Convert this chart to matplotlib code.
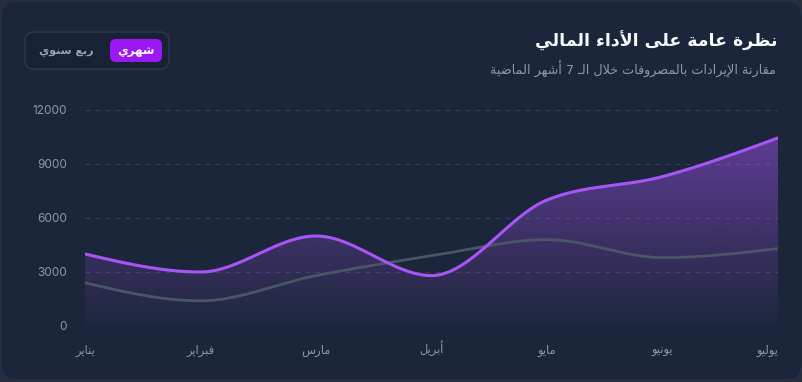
import numpy as np
import matplotlib
matplotlib.use("Agg")
import matplotlib.pyplot as plt
from matplotlib.patches import FancyBboxPatch, Polygon

# ---------------- data ----------------
months = ["يناير", "فبراير", "مارس", "أبريل", "مايو", "يونيو", "يوليو"]
revenue = [4000, 3000, 5000, 2800, 7000, 8300, 10450]
expenses = [2400, 1400, 2800, 3900, 4800, 3800, 4300]
yticks = [0, 3000, 6000, 9000, 12000]
title = "نظرة عامة على الأداء المالي"
subtitle = "مقارنة الإيرادات بالمصروفات خلال الـ 7 أشهر الماضية"
btn_active = "شهري"
btn_other = "ربع سنوي"

# ---------------- minimal Arabic shaping ----------------
_FOUR = {'\u0626': 0xFE89, '\u0628': 0xFE8F, '\u062A': 0xFE95, '\u062B': 0xFE99,
         '\u062C': 0xFE9D, '\u062D': 0xFEA1, '\u062E': 0xFEA5, '\u0633': 0xFEB1,
         '\u0634': 0xFEB5, '\u0635': 0xFEB9, '\u0636': 0xFEBD, '\u0637': 0xFEC1,
         '\u0638': 0xFEC5, '\u0639': 0xFEC9, '\u063A': 0xFECD, '\u0641': 0xFED1,
         '\u0642': 0xFED5, '\u0643': 0xFED9, '\u0644': 0xFEDD, '\u0645': 0xFEE1,
         '\u0646': 0xFEE5, '\u0647': 0xFEE9, '\u064A': 0xFEF1}
_TWO = {'\u0622': 0xFE81, '\u0623': 0xFE83, '\u0624': 0xFE85, '\u0625': 0xFE87,
        '\u0627': 0xFE8D, '\u0629': 0xFE93, '\u062F': 0xFEA9, '\u0630': 0xFEAB,
        '\u0631': 0xFEAD, '\u0632': 0xFEAF, '\u0648': 0xFEED, '\u0649': 0xFEEF}
_LA = {'\u0622': 0xFEF5, '\u0623': 0xFEF7, '\u0625': 0xFEF9, '\u0627': 0xFEFB}
TATWEEL = '\u0640'


def shape(text):
    toks = []
    i = 0
    while i < len(text):
        c = text[i]
        if c == '\u0644' and i + 1 < len(text) and text[i + 1] in _LA:
            toks.append(('LA', _LA[text[i + 1]]))
            i += 2
        else:
            toks.append(('C', c))
            i += 1

    def kind(t):
        if t is None:
            return 'N'
        if t[0] == 'LA':
            return 'R'
        c = t[1]
        if c in _FOUR or c == TATWEEL:
            return 'D'
        if c in _TWO:
            return 'R'
        return 'N'

    out = []
    for j, t in enumerate(toks):
        prev = toks[j - 1] if j > 0 else None
        nxt = toks[j + 1] if j + 1 < len(toks) else None
        k = kind(t)
        jp = k in 'DR' and kind(prev) == 'D'
        jn = k == 'D' and kind(nxt) in 'DR'
        if t[0] == 'LA':
            out.append(chr(t[1] + (1 if jp else 0)))
            continue
        c = t[1]
        if c == TATWEEL or k == 'N':
            out.append(c)
            continue
        base = _FOUR.get(c, _TWO.get(c))
        if jp and jn:
            off = 3
        elif jp:
            off = 1
        elif jn:
            off = 2
        else:
            off = 0
        out.append(chr(base + off))
    return ''.join(reversed(out))


# ---------------- monotone cubic (d3 curveMonotoneX) ----------------
def monotone(xv, yv, n=60):
    x = np.asarray(xv, float)
    y = np.asarray(yv, float)
    h = np.diff(x)
    s = np.diff(y) / h
    m = len(x)
    t = np.zeros(m)
    for i in range(1, m - 1):
        p = (s[i - 1] * h[i] + s[i] * h[i - 1]) / (h[i - 1] + h[i])
        t[i] = (np.sign(s[i - 1]) + np.sign(s[i])) * min(abs(s[i - 1]), abs(s[i]), 0.5 * abs(p))
    t[0] = (3 * s[0] - t[1]) / 2
    t[-1] = (3 * s[-1] - t[-2]) / 2
    xs, ys = [], []
    for i in range(m - 1):
        u = np.linspace(0, 1, n, endpoint=(i == m - 2))
        h00 = 2 * u**3 - 3 * u**2 + 1
        h10 = u**3 - 2 * u**2 + u
        h01 = -2 * u**3 + 3 * u**2
        h11 = u**3 - u**2
        xs.append(x[i] + u * h[i])
        ys.append(h00 * y[i] + h10 * h[i] * t[i] + h01 * y[i + 1] + h11 * h[i] * t[i + 1])
    return np.concatenate(xs), np.concatenate(ys)


# ---------------- figure ----------------
W, H = 803, 382
fig = plt.figure(figsize=(W / 100, H / 100), dpi=100, facecolor='#272d3b')

bg = fig.add_axes([0, 0, 1, 1], zorder=0)
bg.set_xlim(0, W)
bg.set_ylim(H, 0)
bg.axis('off')

CARD = '#1c263a'
bg.add_patch(FancyBboxPatch((1, 1), W - 2, H - 3, boxstyle="round,pad=0,rounding_size=16",
                            fc=CARD, ec='#283247', lw=0.8))

AR = ['DejaVu Sans']
bg.text(778, 41, shape(title), ha='right', va='center', fontsize=12.5,
        fontweight='bold', color='#f8fafc', family=AR)
bg.text(776, 69, shape(subtitle), ha='right', va='center', fontsize=9.2,
        color='#8e97aa', family=AR)

# toggle
bg.add_patch(FancyBboxPatch((25, 32), 144, 37, boxstyle="round,pad=0,rounding_size=9",
                            fc='#182236', ec='#303a4d', lw=1))
bg.add_patch(FancyBboxPatch((110, 39), 52, 23, boxstyle="round,pad=0,rounding_size=6",
                            fc='#9b18f2', ec='none'))
bg.text(136, 50.5, shape(btn_active), ha='center', va='center', fontsize=8.5,
        fontweight='bold', color='white', family=AR)
bg.text(66, 50.5, shape(btn_other), ha='center', va='center', fontsize=8,
        fontweight='bold', color='#9aa3b5', family=AR)

# main plot
left, right = 85, 778
top, bottom = 110, 326
ax = fig.add_axes([left / W, (H - bottom) / H, (right - left) / W, (bottom - top) / H], zorder=1)
ax.set_facecolor('none')
for sp in ax.spines.values():
    sp.set_visible(False)

x = np.arange(len(months))
PURPLE = '#a855f7'
GRAY = '#4a5668'

px, py = monotone(x, revenue)
gx, gy = monotone(x, expenses)

# gradient fill under revenue
ymax = max(revenue)
grad = np.zeros((256, 1, 4))
rgb = matplotlib.colors.to_rgb(PURPLE)
grad[:, 0, :3] = rgb
grad[:, 0, 3] = np.linspace(0.02, 0.47, 256)
im = ax.imshow(grad, extent=[0, len(months) - 1, 0, ymax], origin='lower',
               aspect='auto', interpolation='bilinear', zorder=1)
verts = np.vstack([np.column_stack([px, py]), [[px[-1], 0], [px[0], 0]]])
poly = Polygon(verts, closed=True, fc='none', ec='none', transform=ax.transData)
ax.add_patch(poly)
im.set_clip_path(poly)

for yv in yticks:
    ax.axhline(yv, color='#354056', lw=0.9, ls=(0, (4, 4)), zorder=0.5)

ax.plot(gx, gy, color=GRAY, lw=2.0, zorder=3, solid_capstyle='round')
ax.plot(px, py, color=PURPLE, lw=2.2, zorder=4, solid_capstyle='round')

ax.set_xlim(0, len(months) - 1)
ax.set_ylim(0, 12000)
ax.set_yticks(yticks)
ax.set_yticklabels([str(v) for v in yticks], family=['Inter', 'DejaVu Sans'],
                   fontsize=8.5, color='#8e97aa')
ax.set_xticks(x)
labels = ax.set_xticklabels([shape(m) for m in months], family=AR, fontsize=8.3,
                            color='#8e97aa', va='baseline')
labels[-1].set_ha('right')
ax.tick_params(axis='y', length=0, pad=13)
ax.tick_params(axis='x', length=0, pad=20)

fig.savefig('out.png', dpi=100, facecolor=fig.get_facecolor())
